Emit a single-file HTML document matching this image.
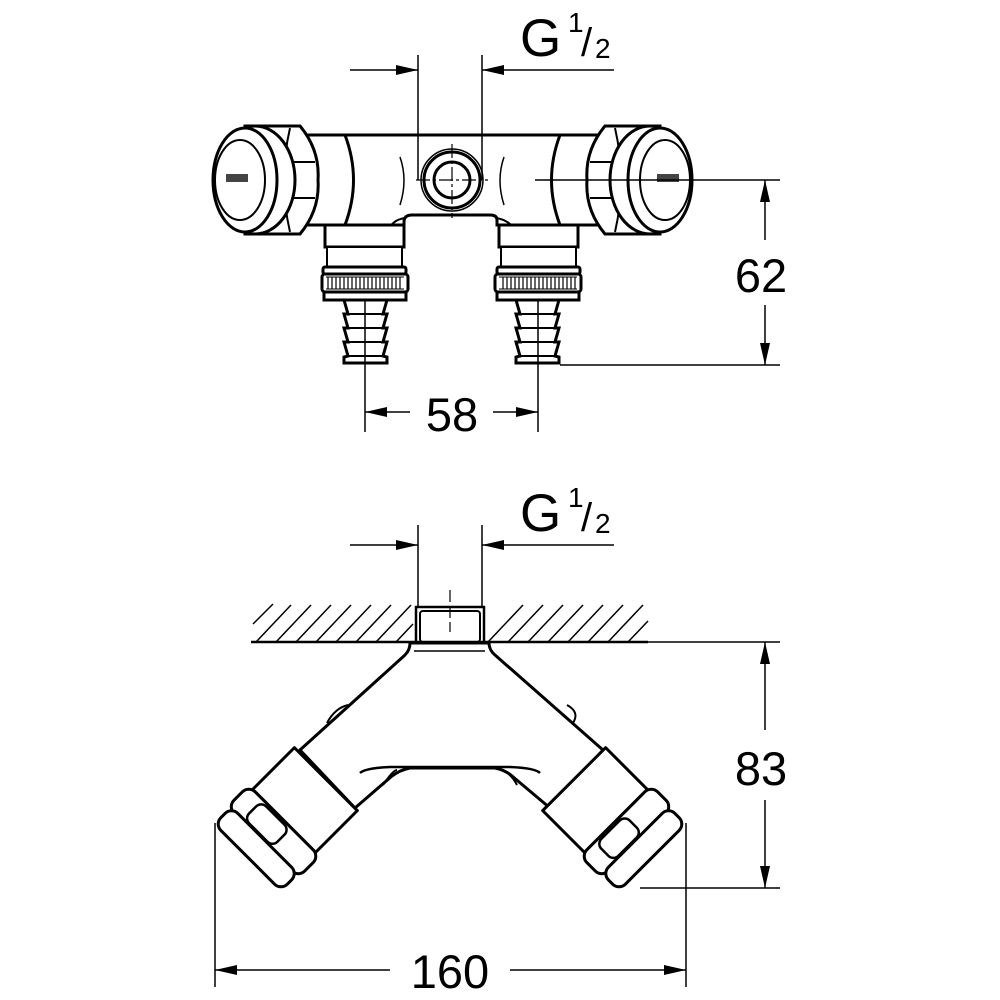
<!DOCTYPE html>
<html><head><style>
html,body{margin:0;padding:0;background:#fff;}
svg{display:block;}
text{font-family:"Liberation Sans",Arial,sans-serif;fill:#000;}
</style></head><body>
<svg width="1000" height="1000" viewBox="0 0 1000 1000" xmlns="http://www.w3.org/2000/svg">
<defs>
<marker id="ar" viewBox="0 0 22 10" refX="22" refY="5" markerWidth="22" markerHeight="10" markerUnits="userSpaceOnUse" orient="auto">
<path d="M0,0 L22,5 L0,10 Z" fill="#000"/></marker>
<g id="knobL" fill="#fff" stroke="#000" stroke-width="3">
  <path d="M290,135 L345,135 Q362,180 345,225 L290,225 Z"/>
  <path d="M245,126 L300,126 Q320,150 318,180 Q320,210 300,234 L245,234 Z"/>
  <line x1="287" y1="162" x2="315" y2="162" stroke-width="2"/>
  <line x1="287" y1="198" x2="315" y2="198" stroke-width="2"/>
  <path d="M290,128 Q278,180 290,232" fill="none" stroke-width="2"/>
  <ellipse cx="255" cy="180" rx="40" ry="54"/>
  <ellipse cx="245" cy="180" rx="32" ry="52"/>
  <ellipse cx="240" cy="180" rx="25" ry="40" fill="none" stroke-width="2"/>
  <rect x="226" y="174" width="22" height="8" fill="#444" stroke="none"/>
</g>
<g id="legL" fill="#fff" stroke="#000" stroke-width="3">
  <rect x="325" y="225" width="79" height="22"/>
  <rect x="327" y="247" width="75" height="20" stroke-width="2"/>
  <rect x="323" y="267" width="83" height="7" rx="2"/>
  <rect x="322" y="274" width="86" height="18" rx="3"/>
  <path d="M326,277 h78 M326,289 h78" stroke-width="1"/>
  <path d="M328,277 v12 M332,277 v12 M336,277 v12 M340,277 v12 M344,277 v12 M348,277 v12 M352,277 v12 M356,277 v12 M360,277 v12 M364,277 v12 M368,277 v12 M372,277 v12 M376,277 v12 M380,277 v12 M384,277 v12 M388,277 v12 M392,277 v12 M396,277 v12 M400,277 v12" stroke-width="1.2"/>
  <rect x="324" y="292" width="82" height="8"/>
  <path d="M344,300 L387,300 L383,314 L387,314 L383,328 L387,328 L383,342 L387,342 L383,356 L387,357 L387,363 L344,363 L344,357 L348,356 L344,342 L348,342 L344,328 L348,328 L344,314 L348,314 Z"/>
  <path d="M346,314 h39 M346,328 h39 M346,342 h39 M346,356 h39" stroke-width="2"/>
</g>
<g id="armL" fill="#fff" stroke="#000" stroke-width="3" stroke-linejoin="round">
  <rect x="-44.5" y="-29.5" width="89" height="59"/>
  <rect x="-50" y="29.5" width="100" height="30" rx="9"/>
  <rect x="-47" y="57" width="94" height="24" rx="9"/>
  <rect x="-30" y="32" width="40" height="24" rx="7" fill="none" stroke-width="2.5"/>
</g>
</defs>

<path d="M340,135 L560,135 L560,225 L497,225 L497,220 Q497,215 490,215 L412,215 Q404,215 404,222 L404,225 L340,225 Z" fill="#fff" stroke="#000" stroke-width="3"/>
<path d="M389,230 Q392,220 405,218 M496,218 Q509,220 515,230" fill="none" stroke="#000" stroke-width="2"/>
<path d="M400,157 Q408,180 400,205 M504,157 Q496,180 504,205" fill="none" stroke="#000" stroke-width="1.5"/>
<use href="#legL"/>
<use href="#legL" transform="translate(903,0) scale(-1,1)"/>
<use href="#knobL"/>
<use href="#knobL" transform="translate(905,0) scale(-1,1)"/>
<circle cx="452" cy="180" r="31" fill="none" stroke="#000" stroke-width="1.5"/>
<circle cx="452" cy="180" r="28" fill="#fff" stroke="#000" stroke-width="3"/>
<circle cx="452" cy="180" r="18" fill="none" stroke="#000" stroke-width="3"/>
<path d="M416,180 H488 M452,144 V218" stroke="#000" stroke-width="1.2" stroke-dasharray="14,3,3,3"/>
<g stroke="#000" stroke-width="1.5" fill="none">
<line x1="418" y1="55" x2="418" y2="180"/>
<line x1="482" y1="55" x2="482" y2="180"/>
<line x1="350" y1="70" x2="418" y2="70" marker-end="url(#ar)"/>
<line x1="614" y1="70" x2="482" y2="70" marker-end="url(#ar)"/>
<line x1="535" y1="180" x2="780" y2="180"/>
<line x1="560" y1="365" x2="780" y2="365"/>
<line x1="765" y1="240" x2="765" y2="180" marker-end="url(#ar)"/>
<line x1="765" y1="305" x2="765" y2="365" marker-end="url(#ar)"/>
<line x1="365" y1="300" x2="365" y2="432"/>
<line x1="538" y1="300" x2="538" y2="432"/>
<line x1="410" y1="412" x2="365" y2="412" marker-end="url(#ar)"/>
<line x1="493" y1="412" x2="538" y2="412" marker-end="url(#ar)"/>
</g>
<text x="520" y="56" font-size="53">G</text>
<text x="568" y="32" font-size="28">1</text>
<text x="581" y="56" font-size="40">/</text>
<text x="595" y="58" font-size="28">2</text>
<text x="761" y="292" font-size="47" text-anchor="middle">62</text>
<text x="452" y="431" font-size="47" text-anchor="middle">58</text>

<g stroke="#000" stroke-width="1.5" fill="none">
<line x1="418" y1="525" x2="418" y2="615"/>
<line x1="482" y1="525" x2="482" y2="615"/>
<line x1="350" y1="545" x2="418" y2="545" marker-end="url(#ar)"/>
<line x1="614" y1="545" x2="482" y2="545" marker-end="url(#ar)"/>
<path d="M253,624 l20,-20 M256,642 l35,-37 M276,642 l35,-37 M296,642 l35,-37 M316,642 l35,-37 M336,642 l35,-37 M356,642 l35,-37 M376,642 l35,-37 M396,642 l17,-18 M488,642 l35,-37 M508,642 l35,-37 M528,642 l35,-37 M548,642 l35,-37 M568,642 l35,-37 M588,642 l35,-37 M608,642 l35,-37 M628,642 l20,-21"/>
</g>
<line x1="251" y1="642" x2="648" y2="642" stroke="#000" stroke-width="2.5"/>
<line x1="648" y1="642" x2="780" y2="642" stroke="#000" stroke-width="1.5"/>
<path d="M410,643 Q410,650 405,655 L300,750 L355,808 L392,776 Q400,770 410,768 L495,768 Q505,770 512,776 L550,808 L603,750 L495,655 Q489,650 489,643 Z" fill="#fff" stroke="#000" stroke-width="3" stroke-linejoin="round"/>
<path d="M360,773 Q365,768 390,767 L510,767 Q535,768 540,773" fill="none" stroke="#000" stroke-width="2.5"/>
<path d="M327,723 Q335,708 348,705 M567,705 Q580,712 573,723 M383,785 Q393,770 397,770 M503,770 Q512,775 517,785" fill="none" stroke="#000" stroke-width="2"/>
<line x1="414" y1="651" x2="485" y2="651" stroke="#000" stroke-width="1.5"/>
<rect x="416" y="607" width="68" height="35" fill="#fff" stroke="#000" stroke-width="2.5"/>
<rect x="420" y="611" width="60" height="31" rx="3" fill="none" stroke="#000" stroke-width="2"/>
<line x1="450" y1="590" x2="450" y2="632" stroke="#000" stroke-width="1.2" stroke-dasharray="12,4"/>
<use href="#armL" transform="translate(305,800) rotate(45)"/>
<use href="#armL" transform="translate(595,800) rotate(-45)"/>
<g stroke="#000" stroke-width="1.5" fill="none">
<line x1="640" y1="888" x2="780" y2="888"/>
<line x1="765" y1="730" x2="765" y2="642" marker-end="url(#ar)"/>
<line x1="765" y1="800" x2="765" y2="888" marker-end="url(#ar)"/>
<line x1="215" y1="823" x2="215" y2="987"/>
<line x1="686" y1="823" x2="686" y2="987"/>
<line x1="390" y1="970" x2="215" y2="970" marker-end="url(#ar)"/>
<line x1="510" y1="970" x2="686" y2="970" marker-end="url(#ar)"/>
</g>
<text x="520" y="531" font-size="53">G</text>
<text x="568" y="507" font-size="28">1</text>
<text x="581" y="531" font-size="40">/</text>
<text x="595" y="533" font-size="28">2</text>
<text x="761" y="785" font-size="47" text-anchor="middle">83</text>
<text x="450" y="988" font-size="47" text-anchor="middle">160</text>
</svg>
</body></html>
